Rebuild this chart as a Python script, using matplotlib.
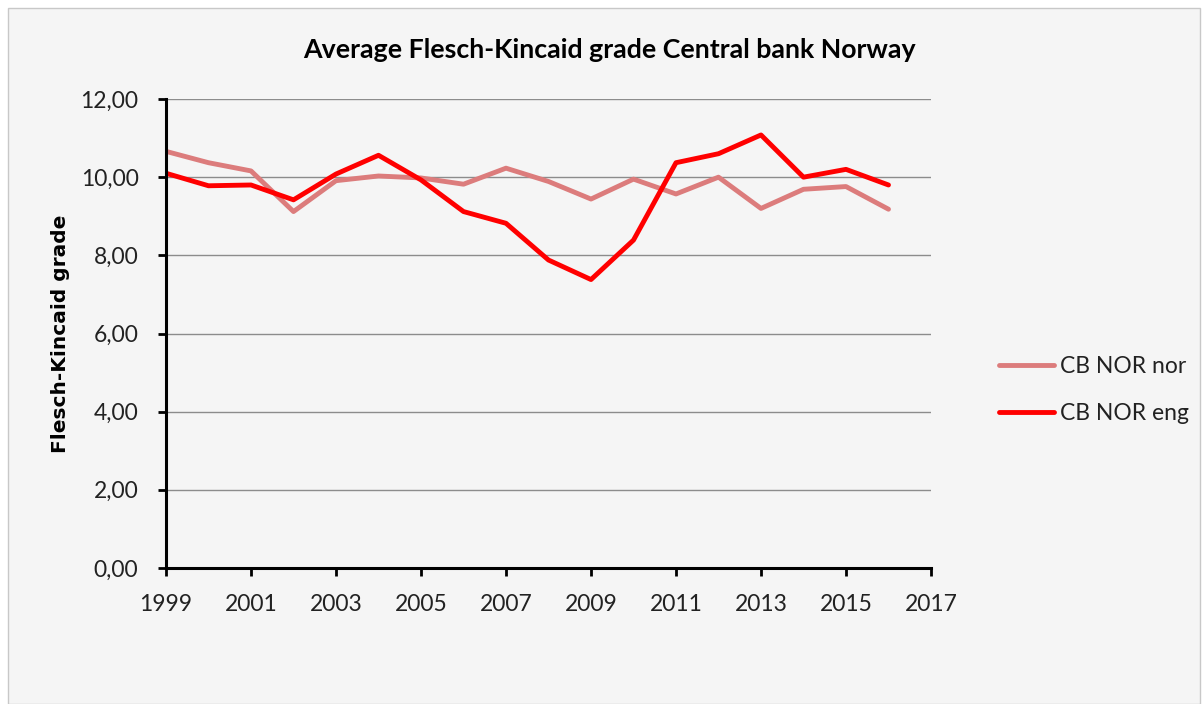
import matplotlib.pyplot as plt

years = list(range(1999, 2017))
cb_nor_nor = [10.66, 10.37, 10.16, 9.12, 9.91, 10.03, 9.98, 9.82, 10.23, 9.89,
              9.44, 9.95, 9.57, 10.00, 9.20, 9.69, 9.76, 9.18]
cb_nor_eng = [10.10, 9.78, 9.80, 9.42, 10.08, 10.56, 9.93, 9.12, 8.82, 7.88,
              7.38, 8.39, 10.37, 10.60, 11.08, 10.00, 10.20, 9.80]
yticks = [0, 2, 4, 6, 8, 10, 12]
xticks = list(range(1999, 2018, 2))

W, H = 1202, 704
fig = plt.figure(figsize=(W / 100, H / 100), dpi=100)
fig.patch.set_facecolor("white")

# chart area frame
frame = plt.Rectangle((8 / W, 0), (W - 10) / W, (H - 8) / H, transform=fig.transFigure,
                      facecolor="#f5f5f5", edgecolor="#c8c8c8", linewidth=1, zorder=-10)
fig.patches.append(frame)

ax = fig.add_axes([166 / W, 1 - 568 / H, (931 - 166) / W, (568 - 99) / H])
ax.set_facecolor("#f5f5f5")

ax.plot(years, cb_nor_nor, color="#dc7c7c", lw=3.5, label="CB NOR nor",
        solid_joinstyle="round", solid_capstyle="round")
ax.plot(years, cb_nor_eng, color="#ff0000", lw=3.5, label="CB NOR eng",
        solid_joinstyle="round", solid_capstyle="round")

ax.set_xlim(1999, 2017)
ax.set_ylim(0, 12)
ax.set_yticks(yticks)
ax.set_yticklabels([f"{v:.2f}".replace(".", ",") for v in yticks])
ax.set_xticks(xticks)
ax.grid(axis="y", color="#8c8c8c", lw=1)
ax.set_axisbelow(True)

for s in ["top", "right"]:
    ax.spines[s].set_visible(False)
for s in ["left", "bottom"]:
    ax.spines[s].set_linewidth(2.2)
    ax.spines[s].set_color("black")
ax.tick_params(direction="out", length=5.8, width=2, colors="black",
               labelsize=16.5)
ax.tick_params(axis="y", pad=14)
ax.tick_params(axis="x", pad=13)
for lab in ax.get_xticklabels() + ax.get_yticklabels():
    lab.set_family("Lato")
    lab.set_color("#222222")

fig.text(60 / W, 1 - 333.5 / H, "Flesch-Kincaid grade", rotation=90,
         ha="center", va="center", fontsize=14.5, fontweight="bold",
         family="DejaVu Sans")

fig.text(609 / W, 1 - 50 / H, "Average Flesch-Kincaid grade Central bank Norway",
         ha="center", va="center", fontsize=19.3, fontweight="bold", family="Lato")

leg = ax.legend(loc="center left", bbox_to_anchor=(988 / W, 1 - 390 / H),
                bbox_transform=fig.transFigure, frameon=False, borderpad=0,
                prop={"family": "Lato", "size": 16.5}, handlelength=2.4,
                handletextpad=0.25, labelspacing=1.1)
for t in leg.get_texts():
    t.set_color("#222222")

fig.savefig("out.png", dpi=100, facecolor=fig.get_facecolor())
